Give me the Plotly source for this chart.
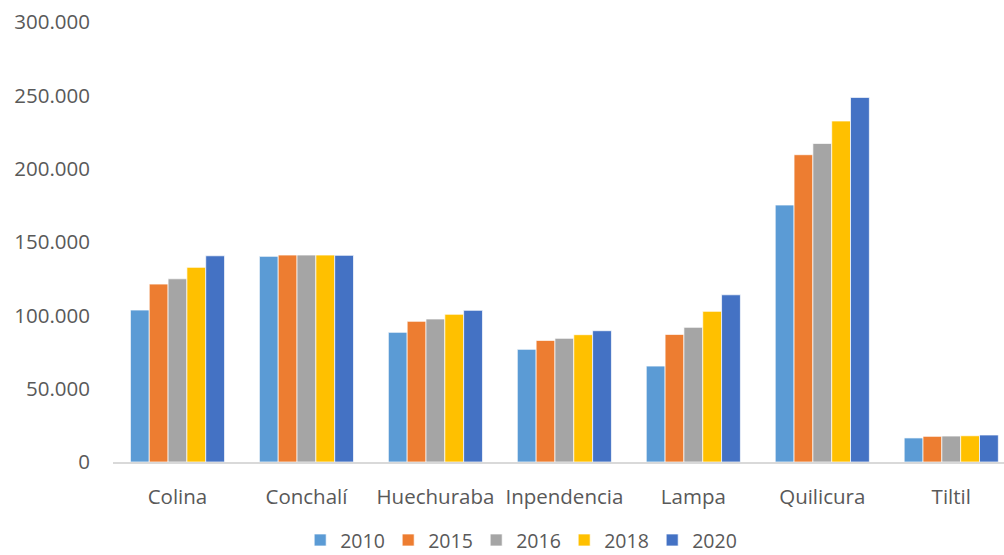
import plotly.graph_objects as go

# Comunas y población por año
comunas = ["Colina", "Conchalí", "Huechuraba", "Inpendencia", "Lampa", "Quilicura", "Tiltil"]
anios = ["2010", "2015", "2016", "2018", "2020"]

pob_2010 = [103600, 140200, 88400, 76800, 65400, 175200, 16400]
pob_2015 = [121300, 141100, 95900, 82900, 87000, 209500, 17500]
pob_2016 = [124900, 141100, 97500, 84300, 91800, 217200, 17700]
pob_2018 = [132700, 141100, 100700, 86800, 102700, 232500, 17900]
pob_2020 = [140600, 140900, 103400, 89500, 114000, 248600, 18400]

series = [pob_2010, pob_2015, pob_2016, pob_2018, pob_2020]
colores = ["#5B9BD5", "#ED7D31", "#A5A5A5", "#FFC000", "#4472C4"]

y_ticks = [0, 50000, 100000, 150000, 200000, 250000, 300000]
y_labels = ["0", "50.000", "100.000", "150.000", "200.000", "250.000", "300.000"]

fuente = "Open Sans"
gris = "#595959"

fig = go.Figure()
for anio, valores, color in zip(anios, series, colores):
    fig.add_trace(go.Bar(
        name=anio,
        x=comunas,
        y=valores,
        marker=dict(color=color, line=dict(color="rgba(255,255,255,0.7)", width=1)),
    ))

fig.update_layout(
    width=1004,
    height=555,
    margin=dict(l=113, r=0, t=22, b=93, autoexpand=False),
    paper_bgcolor="white",
    plot_bgcolor="white",
    barmode="group",
    bargap=0.27,
    bargroupgap=0,
    font=dict(family=fuente, size=20.5, color=gris),
    showlegend=True,
    legend=dict(
        orientation="h",
        xref="paper",
        x=0.457,
        xanchor="center",
        yref="paper",
        y=-0.178,
        yanchor="middle",
        font=dict(family=fuente, size=19.5, color=gris),
        itemwidth=30,
        entrywidth=43,
        entrywidthmode="pixels",
        traceorder="normal",
        bgcolor="rgba(0,0,0,0)",
    ),
    xaxis=dict(
        range=[-0.5, 6.409],
        showgrid=False,
        showline=True,
        linecolor="#D9D9D9",
        linewidth=1.5,
        ticks="",
        tickangle=0,
        ticklabelstandoff=16,
        tickfont=dict(family=fuente, size=20.5, color=gris),
        zeroline=False,
    ),
    yaxis=dict(
        range=[0, 300000],
        tickvals=y_ticks,
        ticktext=y_labels,
        showgrid=False,
        showline=False,
        zeroline=False,
        ticks="",
        ticklabelstandoff=22,
        tickfont=dict(family=fuente, size=20.5, color=gris),
    ),
)

fig.write_html("out.html")
